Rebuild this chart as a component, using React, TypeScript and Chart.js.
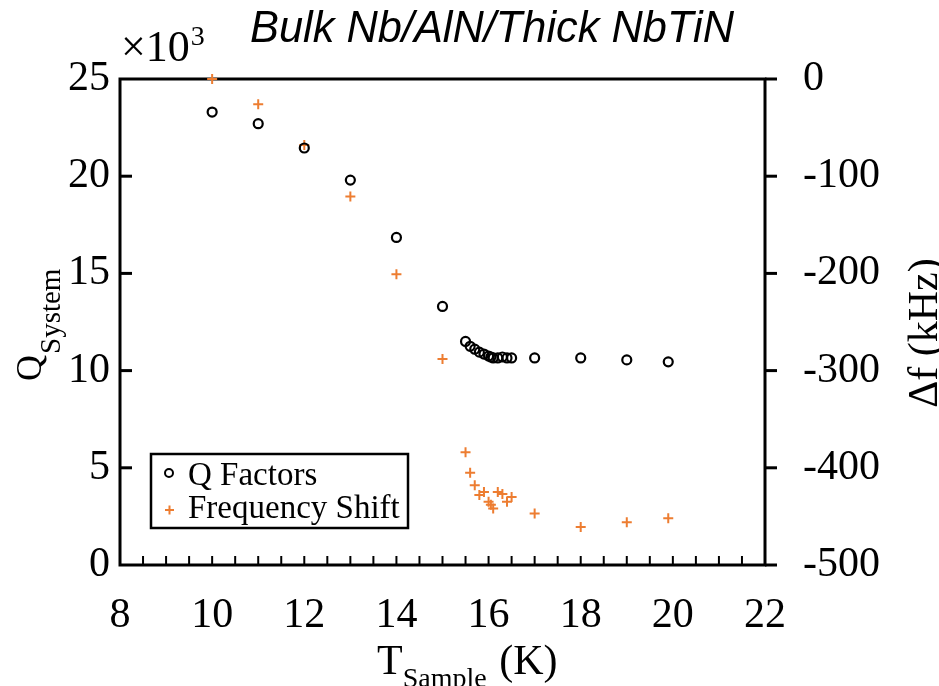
import React, { useEffect, useRef } from "react";
import { Chart, registerables } from "chart.js";

Chart.register(...registerables);

const TITLE = "Bulk Nb/AlN/Thick NbTiN";
const SERIES_Q_LABEL = "Q Factors";
const SERIES_F_LABEL = "Frequency Shift";

// Sample temperature (K) of each measurement
const TEMPS = [10, 11, 12, 13, 14, 15, 15.5, 15.6, 15.7, 15.8, 15.9, 16.0, 16.05, 16.1, 16.2, 16.3, 16.4, 16.5, 17, 18, 19, 19.9];
// Q_System in units of 10^3
const Q_VALUES = [23.3, 22.7, 21.45, 19.8, 16.85, 13.3, 11.5, 11.25, 11.1, 10.95, 10.85, 10.75, 10.7, 10.65, 10.65, 10.7, 10.65, 10.65, 10.65, 10.65, 10.55, 10.45];
// Frequency shift in kHz
const F_SHIFTS = [0, -26, -68, -121, -201, -288, -384, -405, -418, -428, -425, -435, -438, -442, -425, -427, -435, -430, -447, -461, -456, -452];

const X_MIN = 8, X_MAX = 22, X_STEP = 2, X_MINOR = 0.5;
const Q_MIN = 0, Q_MAX = 25, Q_STEP = 5;
const F_MIN = -500, F_MAX = 0, F_STEP = 100;

const ORANGE = "#ED7D31";
const SERIF = "'Liberation Serif', 'Times New Roman', serif";

const decor = {
  id: "decor",
  beforeDatasetsDraw(chart: any) {
    const ctx = chart.ctx;
    const { left, right, top, bottom } = chart.chartArea;
    const xs = chart.scales.x, ys = chart.scales.y, y1 = chart.scales.y1;
    ctx.save();
    ctx.strokeStyle = "#000";
    ctx.lineWidth = 3;
    ctx.strokeRect(left, top, right - left, bottom - top);
    // left ticks (inward)
    for (let v = Q_MIN + Q_STEP; v < Q_MAX; v += Q_STEP) {
      const p = ys.getPixelForValue(v);
      ctx.beginPath(); ctx.moveTo(left, p); ctx.lineTo(left + 12, p); ctx.stroke();
    }
    // right ticks (outward)
    for (let v = F_MIN; v <= F_MAX; v += F_STEP) {
      const p = y1.getPixelForValue(v);
      ctx.beginPath(); ctx.moveTo(right, p); ctx.lineTo(right + 12, p); ctx.stroke();
    }
    // bottom minor ticks (inward)
    ctx.lineWidth = 2;
    for (let t = X_MIN + X_MINOR; t < X_MAX; t += X_MINOR) {
      const p = xs.getPixelForValue(t);
      ctx.beginPath(); ctx.moveTo(p, bottom); ctx.lineTo(p, bottom - 9); ctx.stroke();
    }
    ctx.restore();
  },
  afterDraw(chart: any) {
    const ctx = chart.ctx;
    ctx.save();
    ctx.fillStyle = "#000";
    ctx.textBaseline = "alphabetic";
    // Title
    ctx.font = "italic 44px 'Liberation Sans', Arial, sans-serif";
    const tw = ctx.measureText(TITLE).width;
    ctx.save();
    ctx.translate(492, 42);
    ctx.scale(484 / tw, 1);
    ctx.textAlign = "center";
    ctx.fillText(TITLE, 0, 0);
    ctx.restore();
    ctx.textAlign = "left";
    // ×10^3
    ctx.font = `44px ${SERIF}`;
    ctx.fillText("×10", 121, 61);
    const w10 = ctx.measureText("×10").width;
    ctx.font = `28px ${SERIF}`;
    ctx.fillText("3", 121 + w10 + 1, 45);
    // Left axis title
    ctx.save();
    ctx.translate(41, 381);
    ctx.rotate(-Math.PI / 2);
    ctx.font = `36px ${SERIF}`;
    ctx.fillText("Q", 0, 0);
    const wq = ctx.measureText("Q").width;
    ctx.font = `29px ${SERIF}`;
    ctx.fillText("System", wq + 1, 19);
    ctx.restore();
    // Right axis title
    ctx.save();
    ctx.translate(937, 333);
    ctx.rotate(-Math.PI / 2);
    ctx.textAlign = "center";
    ctx.font = `42px ${SERIF}`;
    ctx.fillText("Δf (kHz)", 0, 0);
    ctx.restore();
    // X axis title
    ctx.font = `42px ${SERIF}`;
    ctx.fillText("T", 377, 674);
    const wt = ctx.measureText("T").width;
    ctx.font = `28px ${SERIF}`;
    ctx.fillText("Sample", 377 + wt, 687);
    const ws = ctx.measureText("Sample").width;
    ctx.font = `42px ${SERIF}`;
    ctx.fillText(" (K)", 377 + wt + ws + 2, 674);
    // Legend
    const ds = chart.data.datasets;
    ctx.lineWidth = 2.5;
    ctx.strokeStyle = "#000";
    ctx.strokeRect(151, 454, 257, 74);
    ctx.font = `33px ${SERIF}`;
    ctx.fillText(ds[0].label, 188, 485);
    ctx.fillText(ds[1].label, 188, 518);
    ctx.lineWidth = 2;
    ctx.beginPath(); ctx.arc(169, 473, 4, 0, Math.PI * 2); ctx.stroke();
    ctx.strokeStyle = ORANGE;
    ctx.beginPath();
    ctx.moveTo(165, 510); ctx.lineTo(174, 510);
    ctx.moveTo(169.5, 505.5); ctx.lineTo(169.5, 514.5);
    ctx.stroke();
    ctx.restore();
  },
};

export default function App() {
  const ref = useRef<HTMLCanvasElement>(null);
  useEffect(() => {
    const qData = TEMPS.map((t, i) => ({ x: t, y: Q_VALUES[i] }));
    const fData = TEMPS.map((t, i) => ({ x: t, y: F_SHIFTS[i] }));
    const tickFont = { family: SERIF, size: 42 };
    const chart = new Chart(ref.current as HTMLCanvasElement, {
      type: "scatter",
      data: {
        datasets: [
          {
            label: SERIES_Q_LABEL,
            data: qData,
            yAxisID: "y",
            pointStyle: "circle",
            pointRadius: 4.5,
            pointBorderWidth: 2.2,
            pointBorderColor: "#000",
            pointBackgroundColor: "rgba(0,0,0,0)",
            borderColor: "#000",
            backgroundColor: "rgba(0,0,0,0)",
            clip: false,
          } as any,
          {
            label: SERIES_F_LABEL,
            data: fData,
            yAxisID: "y1",
            pointStyle: "cross",
            pointRadius: 5,
            pointBorderWidth: 2,
            pointBorderColor: ORANGE,
            borderColor: ORANGE,
            backgroundColor: ORANGE,
            clip: false,
          } as any,
        ],
      },
      options: {
        responsive: false,
        animation: false,
        layout: { padding: { top: 79, left: 0, right: 0, bottom: 0 } },
        plugins: {
          legend: { display: false },
          tooltip: { enabled: false },
          title: { display: false },
        },
        scales: {
          x: {
            type: "linear",
            position: "bottom",
            min: X_MIN,
            max: X_MAX,
            ticks: { stepSize: X_STEP, font: tickFont, color: "#000", padding: 26, maxRotation: 0, autoSkip: false },
            grid: { display: false, drawTicks: false },
            border: { display: false },
            afterFit: (s: any) => { s.height = 121; },
          },
          y: {
            type: "linear",
            position: "left",
            min: Q_MIN,
            max: Q_MAX,
            ticks: { stepSize: Q_STEP, font: tickFont, color: "#000", padding: 10 },
            grid: { display: false, drawTicks: false },
            border: { display: false },
            afterFit: (s: any) => { s.width = 120; },
          },
          y1: {
            type: "linear",
            position: "right",
            min: F_MIN,
            max: F_MAX,
            ticks: { stepSize: F_STEP, font: tickFont, color: "#000", padding: 38 },
            grid: { display: false, drawTicks: false },
            border: { display: false },
            afterFit: (s: any) => { s.width = 174; },
          },
        },
      } as any,
      plugins: [decor],
    });
    return () => chart.destroy();
  }, []);
  return (
    <div style={{ position: "fixed", left: 0, top: 0, width: 939, height: 686, background: "#fff" }}>
      <canvas ref={ref} width={939} height={686} style={{ display: "block", width: 939, height: 686 }} />
    </div>
  );
}
